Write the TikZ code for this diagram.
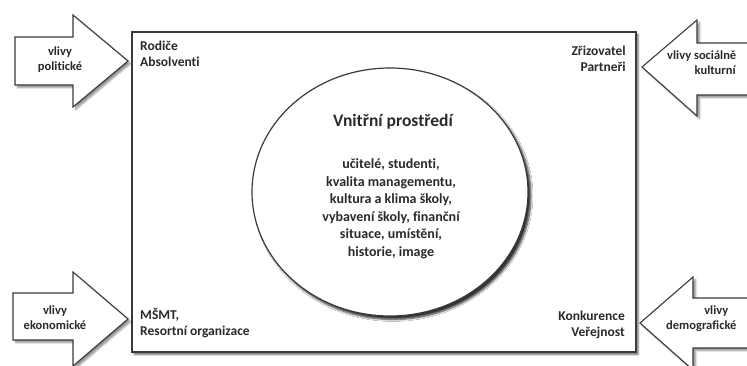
\documentclass[tikz,border=0pt]{standalone}
\usepackage{fontspec}
\setmainfont{Carlito}[Ligatures=NoCommon]
\usetikzlibrary{shadows.blur}
\definecolor{ink}{HTML}{2A2A2A}
\definecolor{edge}{HTML}{3A3A3A}
\tikzset{
  influence/.style={draw=edge, line width=1.1pt, fill=white, line join=miter,
    blur shadow={shadow xshift=2.5pt, shadow yshift=-2.5pt, shadow blur steps=6, shadow opacity=45}},
  frame/.style={draw=edge, line width=1.3pt, fill=white,
    blur shadow={shadow xshift=2pt, shadow yshift=-2.5pt, shadow blur steps=5, shadow opacity=60}},
  core/.style={draw=edge, line width=1.2pt, fill=white,
    blur shadow={shadow xshift=3pt, shadow yshift=-3.5pt, shadow blur steps=6, shadow opacity=80}},
  arrowtext/.style={font=\bfseries\fontsize{12.5}{15}\selectfont, text=ink, align=center, inner sep=0pt},
  cornertext/.style={font=\bfseries\fontsize{13.5}{16}\selectfont, text=ink, inner sep=0pt},
  titletext/.style={font=\bfseries\fontsize{17.5}{20}\selectfont, text=ink, inner sep=0pt},
  bodytext/.style={font=\bfseries\fontsize{14}{17.5}\selectfont, text=ink, align=center, inner sep=0pt},
}
\begin{document}
\begin{tikzpicture}[x=1pt, y=-1pt]
  \useasboundingbox (0,0) rectangle (747,365);

  % school frame
  \path[frame] (132,32) rectangle (636,352);

  % internal environment
  \path[core] (390,192) ellipse [x radius=138, y radius=124];

  % influence arrows
  \path[influence] (15,37) -- (73,37) -- (73,15) -- (128,61) -- (73,107) -- (73,85) -- (15,85) -- cycle;
  \path[influence] (13,293) -- (73,293) -- (73,272) -- (128,319) -- (73,366) -- (73,340) -- (13,340) -- cycle;
  \path[influence] (770,43) -- (697,43) -- (697,20) -- (642,67) -- (697,116) -- (697,95) -- (770,95) -- cycle;
  \path[influence] (770,298) -- (693,298) -- (693,277) -- (640,323) -- (693,370) -- (693,348) -- (770,348) -- cycle;

  % arrow labels
  \node[arrowtext] (pol) at (60,60) {vlivy\\politické};
  \node[arrowtext] (eko) at (55,318) {vlivy\\ekonomické};
  \node[arrowtext, anchor=north west] (soc) at (667,51) {vlivy sociálně\\\hphantom{vlivy }kulturní};
  \node[arrowtext, anchor=north west] (dem) at (666,306) {\hphantom{demo}vlivy\\demografické};

  % stakeholders in the corners
  \node[cornertext, anchor=north west, align=left] (tl) at (140,41) {Rodiče\\Absolventi};
  \node[cornertext, anchor=north east, align=right] (tr) at (626,46) {Zřizovatel\\Partneři};
  \node[cornertext, anchor=south west, align=left] (bl) at (140,338) {MŠMT,\\Resortní organizace};
  \node[cornertext, anchor=south east, align=right] (br) at (625,339) {Konkurence\\Veřejnost};

  % ellipse contents
  \node[titletext] (title) at (393,122) {Vnitřní prostředí};
  \node[bodytext] (body) at (391,209) {učitelé, studenti,\\kvalita managementu,\\kultura a klima školy,\\vybavení školy, finanční\\situace, umístění,\\historie, image};
\end{tikzpicture}
\end{document}
